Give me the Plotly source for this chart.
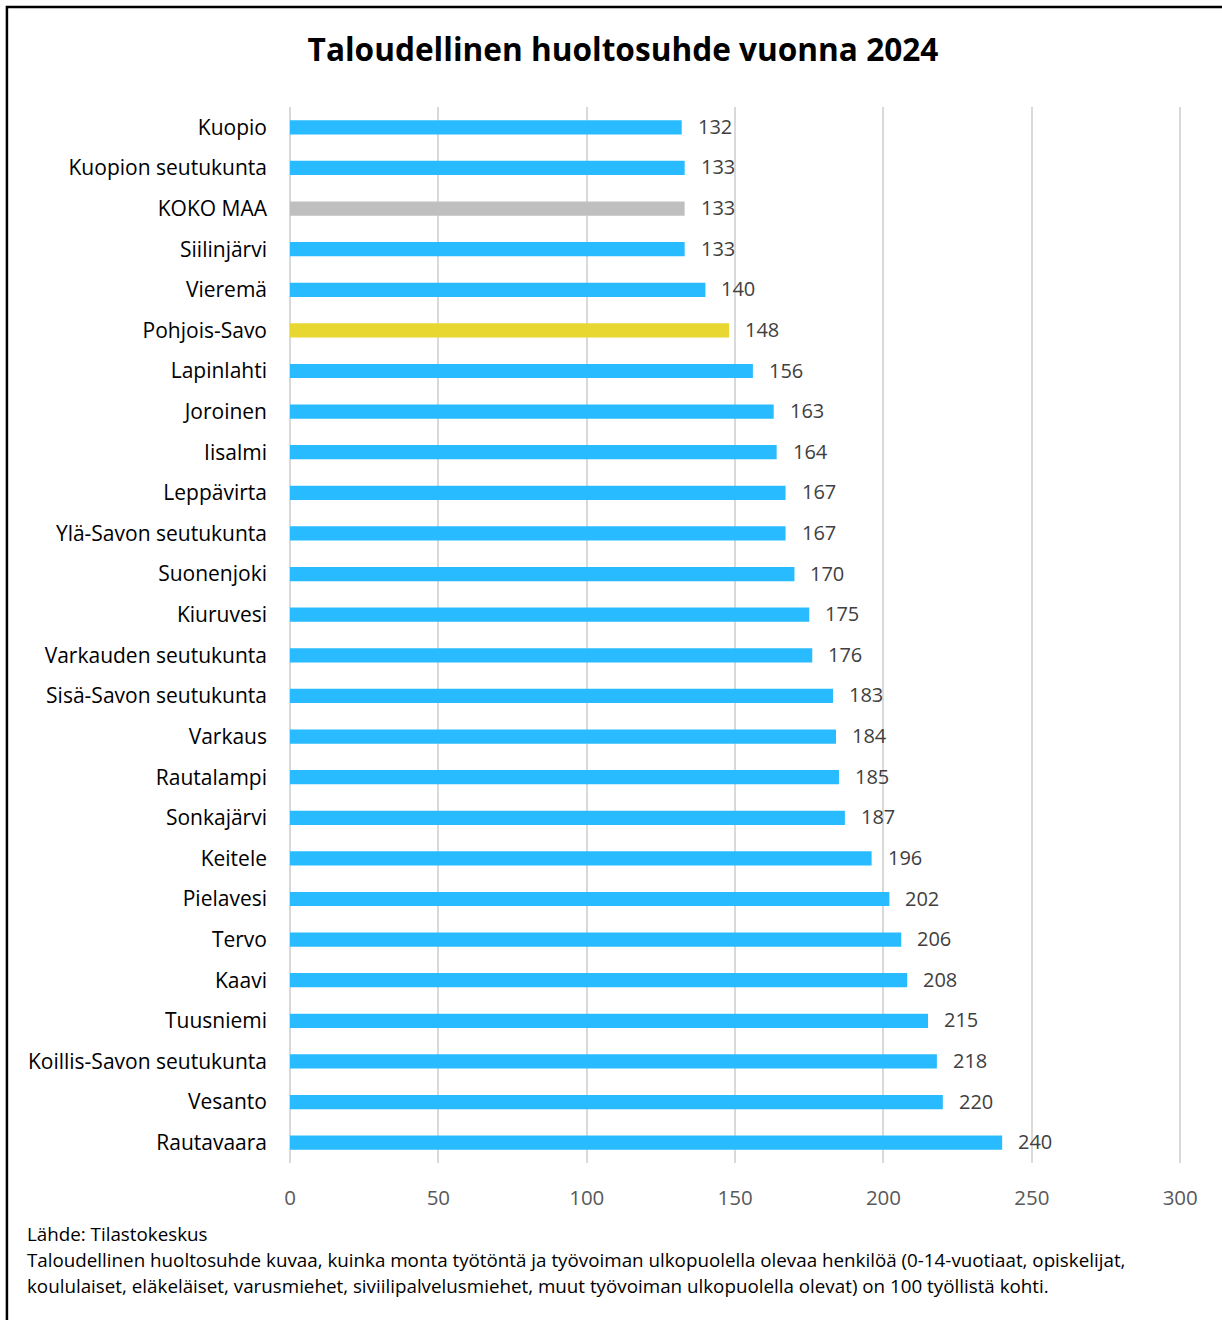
import plotly.graph_objects as go

categories = ["Kuopio", "Kuopion seutukunta", "KOKO MAA", "Siilinjärvi", "Vieremä",
              "Pohjois-Savo", "Lapinlahti", "Joroinen", "Iisalmi", "Leppävirta",
              "Ylä-Savon seutukunta", "Suonenjoki", "Kiuruvesi", "Varkauden seutukunta",
              "Sisä-Savon seutukunta", "Varkaus", "Rautalampi", "Sonkajärvi", "Keitele",
              "Pielavesi", "Tervo", "Kaavi", "Tuusniemi", "Koillis-Savon seutukunta",
              "Vesanto", "Rautavaara"]
values = [132, 133, 133, 133, 140, 148, 156, 163, 164, 167, 167, 170, 175, 176,
          183, 184, 185, 187, 196, 202, 206, 208, 215, 218, 220, 240]
x_ticks = [0, 50, 100, 150, 200, 250, 300]

title_text = "Taloudellinen huoltosuhde vuonna 2024"
source_text = "Lähde: Tilastokeskus"
note_lines = [
    "Taloudellinen huoltosuhde kuvaa, kuinka monta työtöntä ja työvoiman ulkopuolella olevaa henkilöä (0-14-vuotiaat, opiskelijat,",
    "koululaiset, eläkeläiset, varusmiehet, siviilipalvelusmiehet, muut työvoiman ulkopuolella olevat) on 100 työllistä kohti.",
]

BLUE = "#29BBFF"
GRAY = "#BFBFBF"
YELLOW = "#E8D631"
colors = [GRAY if c == "KOKO MAA" else YELLOW if c == "Pohjois-Savo" else BLUE for c in categories]

FONT = "Open Sans, sans-serif"

fig = go.Figure(go.Bar(
    x=values, y=categories, orientation="h",
    marker=dict(color=colors, line=dict(width=0)),
    width=0.35,
))

XMAX = 300.6
W, H = 1222, 1320
L, T, B = 290, 107, 157
pw = 890 * XMAX / 300
R = W - L - pw
ph = H - T - B

for c, v in zip(categories, values):
    fig.add_annotation(x=v, y=c, xref="x", yref="y", text=str(v), showarrow=False,
                       xanchor="left", xshift=14, yshift=1,
                       font=dict(family=FONT, size=20, color="#404040"))

fig.add_annotation(x=(25 - L) / pw, y=1 - (1234 - T) / ph, xref="paper", yref="paper",
                   text=source_text, showarrow=False, xanchor="left", yanchor="middle",
                   font=dict(family=FONT, size=18.8, color="#000000"))
for i, line in enumerate(note_lines):
    fig.add_annotation(x=(25 - L) / pw, y=1 - (1260 + 26 * i - T) / ph, xref="paper", yref="paper",
                       text=line, showarrow=False, xanchor="left", yanchor="middle",
                       font=dict(family=FONT, size=18.8, color="#000000"))

fig.add_shape(type="rect", xref="paper", yref="paper",
              x0=(7 - L) / pw, x1=(1240 - L) / pw,
              y0=1 - (1340 - T) / ph, y1=1 - (7 - T) / ph,
              line=dict(color="#000000", width=2.5), fillcolor="rgba(0,0,0,0)", layer="above")

fig.update_layout(
    width=W, height=H,
    margin=dict(l=L, r=R, t=T, b=B),
    paper_bgcolor="white", plot_bgcolor="white",
    showlegend=False,
    title=dict(text="<b>" + title_text + "</b>", x=623 / W, xanchor="center",
               y=1 - 50 / H, yanchor="middle",
               font=dict(family=FONT, size=31.6, color="#000000")),
    xaxis=dict(range=[0, XMAX], tickvals=x_ticks,
               showgrid=True, gridcolor="#D9D9D9", gridwidth=2,
               zeroline=True, zerolinecolor="#D9D9D9", zerolinewidth=2,
               showline=False, ticks="", ticklabelstandoff=20,
               tickfont=dict(family=FONT, size=20.5, color="#595959")),
    yaxis=dict(autorange="reversed", showgrid=False, showline=False, ticks="",
               ticklabelstandoff=22,
               tickfont=dict(family=FONT, size=21, color="#000000")),
)

fig.write_html("out.html")
